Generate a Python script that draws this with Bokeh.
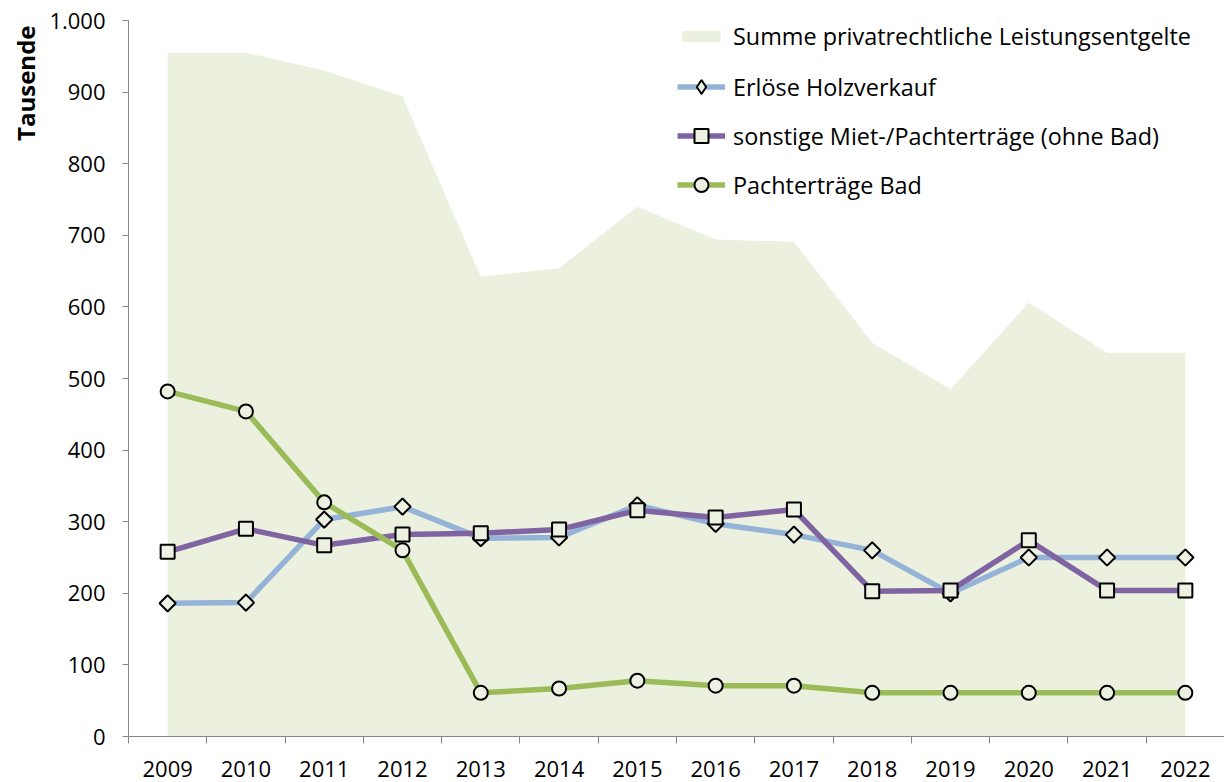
import math
from bokeh.plotting import figure
from bokeh.models import FixedTicker, Legend, LegendItem, Title, Range1d
from bokeh.embed import file_html
from bokeh.resources import INLINE

# ---- data ----
years = [2009, 2010, 2011, 2012, 2013, 2014, 2015, 2016, 2017, 2018, 2019, 2020, 2021, 2022]
summe = [955, 955, 930, 894, 642, 654, 740, 694, 691, 550, 485, 606, 536, 536]
holz = [186, 187, 303, 321, 277, 278, 323, 297, 282, 260, 200, 250, 250, 250]
sonstige = [258, 290, 267, 282, 284, 289, 316, 306, 317, 203, 204, 274, 204, 204]
bad = [482, 454, 327, 260, 61, 67, 78, 71, 71, 61, 61, 61, 61, 61]
y_ticks = [0, 100, 200, 300, 400, 500, 600, 700, 800, 900, 1000]
y_tick_labels = ["0", "100", "200", "300", "400", "500", "600", "700", "800", "900", "1.000"]
series_names = ["Summe privatrechtliche Leistungsentgelte", "Erlöse Holzverkauf",
                "sonstige Miet-/Pachterträge (ohne Bad)", "Pachterträge Bad"]

xs = list(range(1, len(years) + 1))
FONT = "Open Sans"
AREA = "#EBF1DE"
MFILL = "#EDF1E2"

p = figure(width=1224, height=782, output_backend="svg", toolbar_location=None,
           x_range=Range1d(0.5, len(years) + 0.5), y_range=Range1d(0, 1000),
           min_border_left=128, min_border_top=20, min_border_right=0, min_border_bottom=46)
p.outline_line_color = None
p.xgrid.visible = False
p.ygrid.visible = False
p.background_fill_color = "white"
p.border_fill_color = "white"

area = p.varea(x=xs, y1=[0] * len(xs), y2=summe, fill_color=AREA)

l1 = p.line(xs, holz, line_color="#95B3D7", line_width=5.5)
m1 = p.scatter(xs, holz, marker="square", angle=math.pi / 4, size=11.5,
               fill_color=MFILL, line_color="black", line_width=2)
# legend-only marker (legend glyphs are drawn without rotation); NaN point is not drawn in the plot
m1_leg = p.scatter(x=[float("nan")], y=[float("nan")], marker="diamond", size=14,
                   fill_color=MFILL, line_color="black", line_width=2)
l2 = p.line(xs, sonstige, line_color="#8064A2", line_width=5.5)
m2 = p.scatter(xs, sonstige, marker="square", size=14,
               fill_color=MFILL, line_color="black", line_width=2)
l3 = p.line(xs, bad, line_color="#9BBB59", line_width=5.5)
m3 = p.scatter(xs, bad, marker="circle", size=14,
               fill_color=MFILL, line_color="black", line_width=2)

# x axis
p.xaxis.ticker = FixedTicker(ticks=xs, minor_ticks=[x - 0.5 for x in xs] + [len(xs) + 0.5])
p.xaxis.major_label_overrides = {x: str(y) for x, y in zip(xs, years)}
p.xaxis.major_tick_out = 0
p.xaxis.major_tick_in = 0
p.xaxis.minor_tick_out = 7
p.xaxis.minor_tick_in = 0
p.xaxis.minor_tick_line_color = "#868686"
p.xaxis.axis_line_color = "#868686"
p.xaxis.major_label_standoff = 17
p.xaxis.major_label_text_font = FONT
p.xaxis.major_label_text_font_size = "22px"
p.xaxis.major_label_text_color = "black"

# y axis
p.yaxis.ticker = FixedTicker(ticks=y_ticks)
p.yaxis.major_label_overrides = {t: s for t, s in zip(y_ticks, y_tick_labels)}
p.yaxis.major_tick_out = 6
p.yaxis.major_tick_in = 0
p.yaxis.minor_tick_line_color = None
p.yaxis.major_tick_line_color = "#868686"
p.yaxis.axis_line_color = "#868686"
p.yaxis.major_label_standoff = 17
p.yaxis.major_label_text_font = FONT
p.yaxis.major_label_text_font_size = "22px"
p.yaxis.major_label_text_color = "black"

ytitle = Title(text="Tausende", align="right", text_font=FONT, text_font_size="24px",
               text_font_style="bold", text_color="black", offset=5)
p.add_layout(ytitle, "left")


def style_legend(lg):
    lg.border_line_color = None
    lg.background_fill_alpha = 0
    lg.padding = 0
    lg.margin = 0
    lg.glyph_width = 48
    lg.label_standoff = 8
    lg.label_text_font = FONT
    lg.label_text_font_size = "23.4px"
    lg.label_text_color = "black"


legend_a = Legend(items=[LegendItem(label=series_names[0], renderers=[area])],
                  location=(549, 684))
style_legend(legend_a)
legend_a.glyph_height = 14
legend_a.label_height = 30
p.add_layout(legend_a)

legend_b = Legend(items=[
    LegendItem(label=series_names[1], renderers=[l1, m1_leg]),
    LegendItem(label=series_names[2], renderers=[l2, m2]),
    LegendItem(label=series_names[3], renderers=[l3, m3]),
], location=(549, 534))
style_legend(legend_b)
legend_b.glyph_height = 35
legend_b.label_height = 35
legend_b.spacing = 14
p.add_layout(legend_b)

open("out.html", "w").write(file_html(p, INLINE))
